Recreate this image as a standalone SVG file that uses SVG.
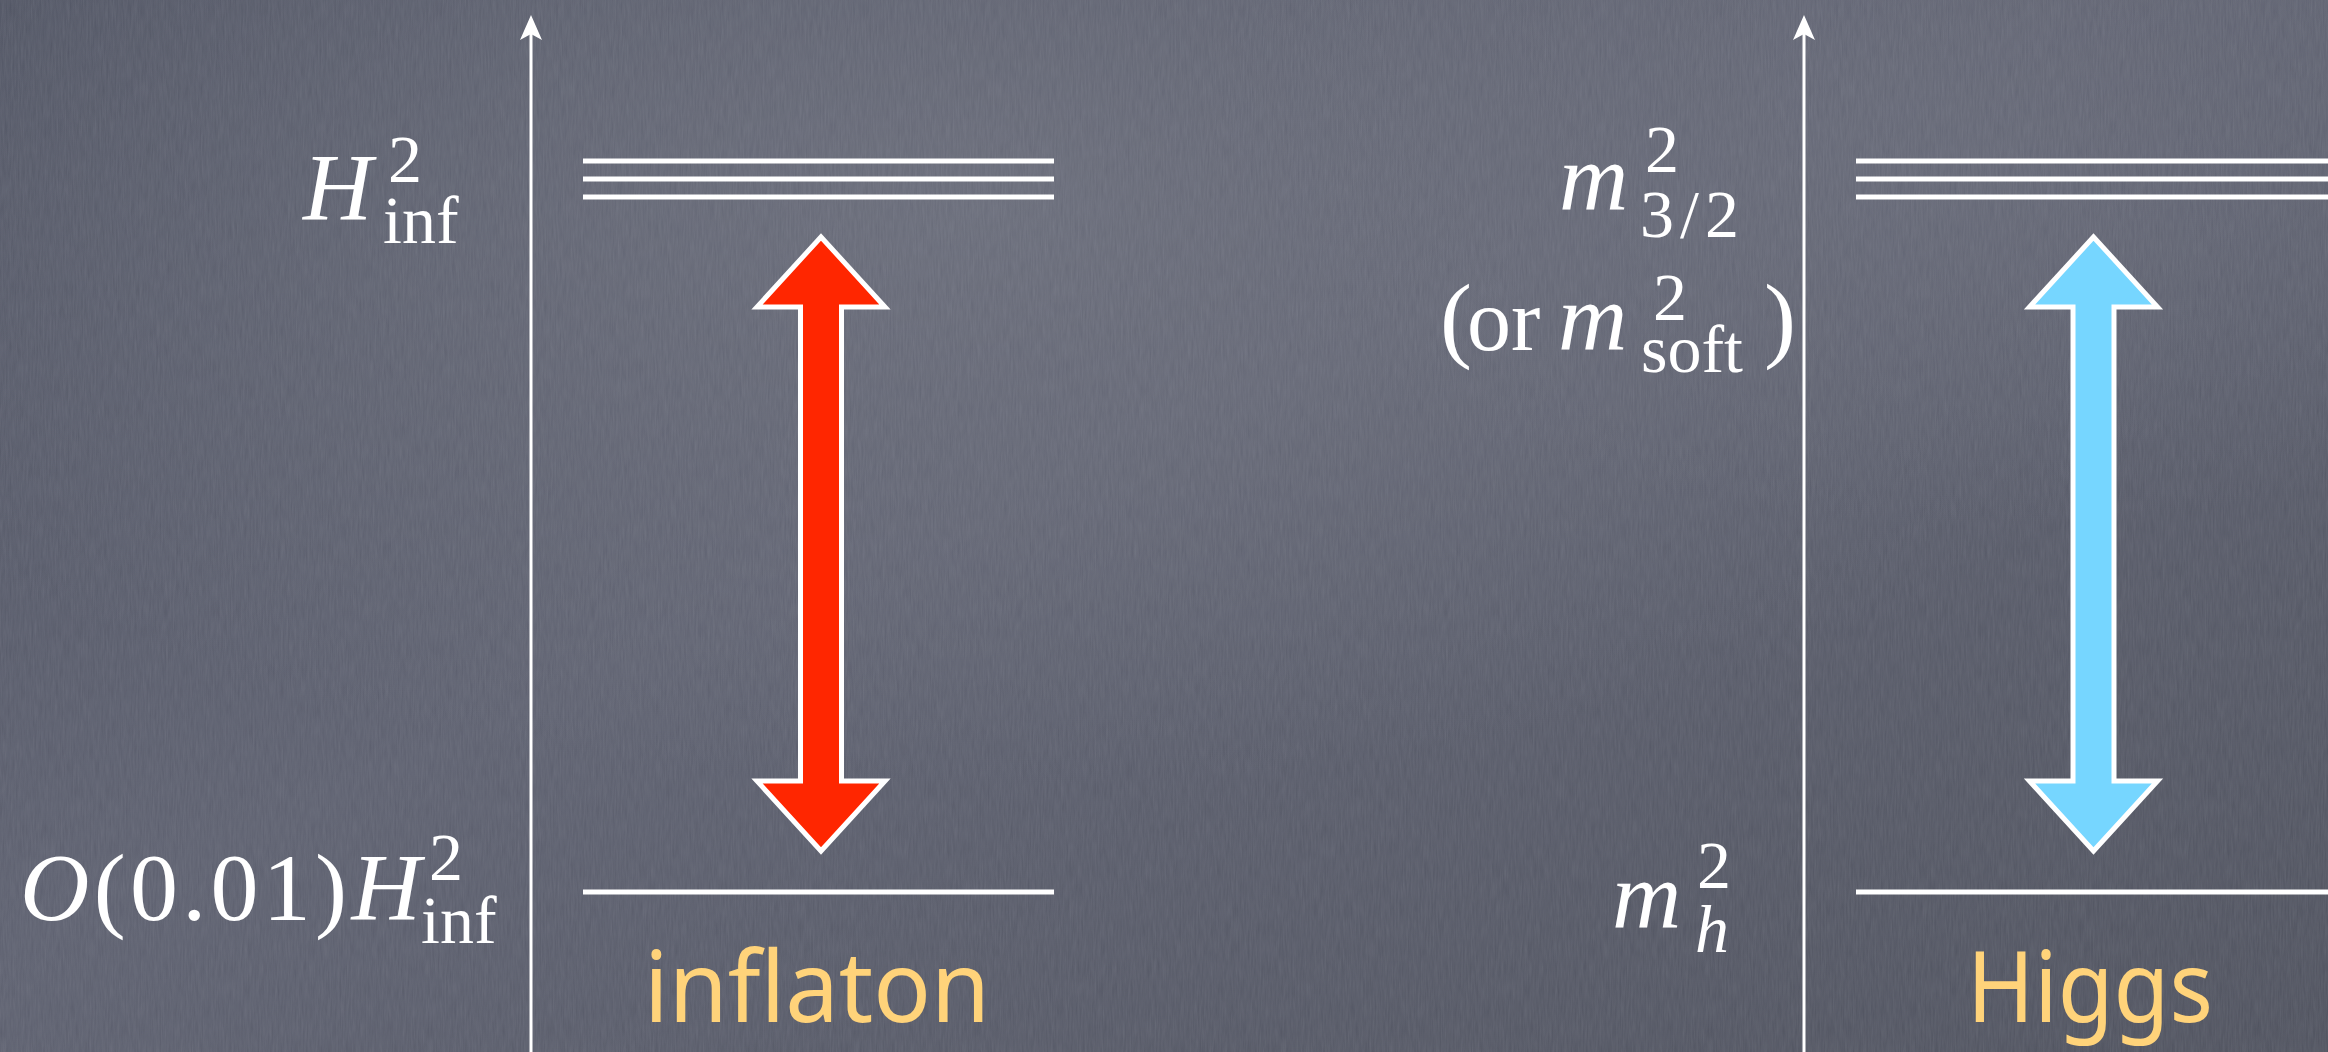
<svg xmlns="http://www.w3.org/2000/svg" width="2328" height="1052" viewBox="0 0 2328 1052">
  <style>
    .math { font-family: "Liberation Serif", "DejaVu Serif", serif; fill: #ffffff; font-size: 96px; }
    .it { font-style: italic; }
    .scr { font-size: 68px; }
    .lbl { font-family: "Noto Sans", "DejaVu Sans", sans-serif; fill: #FFD37A; font-size: 98px; }
    .level { stroke: #ffffff; stroke-width: 5; fill: none; }
    .axis { stroke: #ffffff; stroke-width: 3; fill: none; }
    .dbl { stroke: #ffffff; stroke-width: 5; stroke-linejoin: miter; stroke-miterlimit: 10; }
  </style>
  <defs>
    <linearGradient id="bg" x1="0" y1="0" x2="1" y2="1">
      <stop offset="0" stop-color="#4d5160"/>
      <stop offset="0.45" stop-color="#5d606f"/>
      <stop offset="1" stop-color="#4f525e"/>
    </linearGradient>
    <radialGradient id="hl" cx="0.42" cy="0.2" r="0.55">
      <stop offset="0" stop-color="#6c6f7c" stop-opacity="0.85"/>
      <stop offset="1" stop-color="#6c6f7c" stop-opacity="0"/>
    </radialGradient>
    <radialGradient id="hl2" cx="0.85" cy="0.15" r="0.35">
      <stop offset="0" stop-color="#676a78" stop-opacity="0.7"/>
      <stop offset="1" stop-color="#676a78" stop-opacity="0"/>
    </radialGradient>
    <filter id="grain" x="0" y="0" width="100%" height="100%">
      <feTurbulence type="fractalNoise" baseFrequency="0.6 0.05" numOctaves="3" seed="4" result="n"/>
      <feColorMatrix in="n" type="matrix" values="0 0 0 0 0.75  0 0 0 0 0.77  0 0 0 0 0.82  0 0 0 0.2 0"/>
    </filter>
    <path id="ahead" d="M0,0 L-11,25 L0,19 L11,25 Z" fill="#ffffff"/>
  </defs>

  <g id="background">
    <rect width="2328" height="1052" fill="url(#bg)"/>
    <rect width="2328" height="1052" fill="url(#hl)"/>
    <rect width="2328" height="1052" fill="url(#hl2)"/>
    <rect width="2328" height="1052" filter="url(#grain)" opacity="0.6"/>
  </g>

  <g id="axes">
    <g id="axis-left">
      <line class="axis" x1="531" y1="1052" x2="531" y2="30"/>
      <use href="#ahead" x="531" y="15"/>
    </g>
    <g id="axis-right">
      <line class="axis" x1="1804" y1="1052" x2="1804" y2="30"/>
      <use href="#ahead" x="1804" y="15"/>
    </g>
  </g>

  <g id="inflaton-levels">
    <g id="level-Hinf">
      <line class="level" x1="583" y1="161" x2="1054" y2="161"/>
      <line class="level" x1="583" y1="179" x2="1054" y2="179"/>
      <line class="level" x1="583" y1="197" x2="1054" y2="197"/>
    </g>
    <line id="level-001Hinf" class="level" x1="583" y1="892" x2="1054" y2="892"/>
  </g>

  <g id="higgs-levels">
    <g id="level-m32">
      <line class="level" x1="1856" y1="161" x2="2328" y2="161"/>
      <line class="level" x1="1856" y1="179" x2="2328" y2="179"/>
      <line class="level" x1="1856" y1="197" x2="2328" y2="197"/>
    </g>
    <line id="level-mh" class="level" x1="1856" y1="892" x2="2328" y2="892"/>
  </g>

  <g id="connectors">
    <polygon id="arrow-inflaton" class="dbl" fill="#FF2600"
      points="821,237 757,307 800.5,307 800.5,781 757,781 821,851 885,781 841.5,781 841.5,307 885,307"/>
    <polygon id="arrow-higgs" class="dbl" fill="#76D6FF"
      points="2093.5,237 2029.5,307 2073,307 2073,781 2029.5,781 2093.5,851 2157.5,781 2114,781 2114,307 2157.5,307"/>
  </g>

  <g id="label-Hinf2">
    <text class="math"><tspan class="it" x="303" y="220">H</tspan><tspan class="scr" x="388" y="182">2</tspan><tspan class="scr" x="383" y="243">inf</tspan></text>
  </g>

  <g id="label-O001Hinf2">
    <text class="math"><tspan x="20" y="920" letter-spacing="4.3"><tspan class="it">O</tspan>(0.01)<tspan class="it">H</tspan></tspan><tspan class="scr" x="429" y="880">2</tspan><tspan class="scr" x="421" y="943">inf</tspan></text>
  </g>

  <g id="label-m32">
    <text class="math"><tspan class="it" x="1559" y="210">m</tspan><tspan class="scr" x="1645" y="172">2</tspan><tspan class="scr" x="1640" y="237" letter-spacing="6">3/2</tspan></text>
  </g>

  <g id="label-msoft">
    <text class="math"><tspan x="1440" y="350">(</tspan><tspan x="1467" y="350" font-size="88">or</tspan><tspan class="it" x="1558" y="350">m</tspan><tspan class="scr" x="1653" y="320">2</tspan><tspan class="scr" x="1641" y="372">soft</tspan><tspan x="1764" y="350">)</tspan></text>
  </g>

  <g id="label-mh">
    <text class="math"><tspan class="it" x="1612" y="928">m</tspan><tspan class="scr" x="1697" y="888">2</tspan><tspan class="scr it" x="1695" y="952">h</tspan></text>
  </g>

  <g id="name-inflaton">
    <text class="lbl" x="817" y="1022" text-anchor="middle" textLength="346" lengthAdjust="spacingAndGlyphs">inflaton</text>
  </g>
  <g id="name-higgs">
    <text class="lbl" x="2090" y="1022" text-anchor="middle" textLength="246" lengthAdjust="spacingAndGlyphs">Higgs</text>
  </g>
</svg>
